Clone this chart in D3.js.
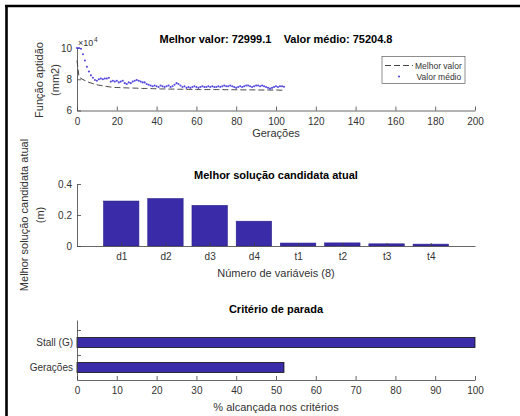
<!DOCTYPE html>
<html><head><meta charset="utf-8">
<script src="https://cdn.jsdelivr.net/npm/d3@7"></script>
<style>
body{margin:0;background:#fff}
svg{display:block;font-family:"Liberation Sans",Arial,Helvetica,sans-serif}
</style>
</head><body><svg id="c" width="520" height="416"></svg>
<script>
// ---- DATA (fitness values in units of 10^4 mm2) ----
const bestFitness = [9.2,8.15,8.05,7.98,7.92,7.86,7.80,7.76,7.72,7.68,
 7.65,7.62,7.60,7.58,7.56,7.54,7.52,7.50,7.49,7.48,
 7.47,7.47,7.46,7.46,7.45,7.45,7.44,7.44,7.44,7.43,
 7.43,7.42,7.42,7.41,7.41,7.41,7.40,7.40,7.40,7.39,
 7.39,7.39,7.38,7.38,7.38,7.38,7.37,7.37,7.37,7.37,
 7.36,7.36,7.36,7.36,7.36,7.35,7.35,7.35,7.35,7.35,
 7.35,7.34,7.34,7.34,7.34,7.34,7.34,7.34,7.34,7.34,
 7.34,7.34,7.34,7.34,7.33,7.33,7.33,7.33,7.33,7.33,
 7.33,7.33,7.33,7.32,7.32,7.32,7.32,7.32,7.32,7.32,
 7.32,7.32,7.31,7.31,7.31,7.31,7.31,7.31,7.31,7.31,
 7.31,7.31,7.30,7.30,7.30];
const meanFitness = [10.0,10.0,9.95,9.6,9.2,8.8,8.5,8.25,8.1,7.95,
 7.9,8.0,8.05,8.0,8.05,8.05,8.1,7.85,7.9,7.85,
 7.9,7.8,7.85,7.9,7.75,7.7,7.8,7.75,7.85,7.9,
 7.95,7.9,7.85,7.8,7.8,7.7,7.65,7.6,7.55,7.6,
 7.55,7.5,7.6,7.55,7.5,7.55,7.6,7.5,7.55,7.65,
 7.75,7.7,7.6,7.5,7.55,7.45,7.5,7.45,7.5,7.55,
 7.5,7.45,7.5,7.55,7.5,7.5,7.55,7.5,7.55,7.5,
 7.5,7.55,7.5,7.55,7.6,7.55,7.55,7.6,7.55,7.5,
 7.45,7.5,7.55,7.5,7.55,7.6,7.6,7.55,7.5,7.55,
 7.6,7.6,7.55,7.6,7.55,7.5,7.45,7.4,7.45,7.5,
 7.55,7.5,7.55,7.55,7.52];
const bestLabel = "Melhor valor: 72999.1";
const meanLabel = "Valor médio: 75204.8";
const genTicks = [0,20,40,60,80,100,120,140,160,180,200];
const fitnessTicks = [6,8,10];

const varNames = ["d1","d2","d3","d4","t1","t2","t3","t4"];
const varValues = [0.29,0.306,0.262,0.16,0.019,0.02,0.014,0.012];
const solTicks = [0,0.2,0.4];

const stopNames = ["Gerações","Stall (G)"];
const stopValues = [52,100];
const pctTicks = [0,10,20,30,40,50,60,70,80,90,100];

// ---- STYLE ----
const barFill = "#3a2ca8";
const axisCol = "#404040";
const textCol = "#333";
const svg = d3.select("#c");

function styleAxis(g){
  g.selectAll("path.domain").attr("stroke",axisCol).attr("stroke-width",0.8);
  g.selectAll(".tick line").attr("stroke",axisCol).attr("stroke-width",0.8);
  g.selectAll(".tick text").attr("fill",textCol).style("font-size","10px")
   .style("font-family",'"Liberation Sans",Arial,sans-serif');
}
function text(x,y,s,opt={}){
  const t = svg.append("text").attr("x",x).attr("y",y).text(s)
    .attr("fill",opt.fill||"#000").style("font-size",(opt.size||11)+"px")
    .attr("text-anchor",opt.anchor||"middle");
  if(opt.bold) t.style("font-weight","bold");
  if(opt.rot) t.attr("transform",`rotate(-90,${x},${y})`);
  if(opt.pre) t.attr("xml:space","preserve").style("white-space","pre");
  return t;
}

// frame
svg.append("line").attr("x1",5).attr("x2",520).attr("y1",6).attr("y2",6)
   .attr("stroke","#000").attr("stroke-width",2.6);
svg.append("line").attr("x1",6.5).attr("x2",6.5).attr("y1",5).attr("y2",416)
   .attr("stroke","#000").attr("stroke-width",2.6);

// ---- PLOT 1 ----
const X0 = 77, X1 = 475;
const x1 = d3.scaleLinear().domain([0,200]).range([X0,X1]);
const y1 = d3.scaleLinear().domain([6,10]).range([110.5,48]);

svg.append("g").attr("transform","translate(0,110.5)")
  .call(d3.axisBottom(x1).tickValues(genTicks).tickFormat(d3.format("d")).tickSizeInner(-4).tickSizeOuter(0).tickPadding(7))
  .call(styleAxis);
svg.append("g").attr("transform",`translate(${X0},0)`)
  .call(d3.axisLeft(y1).tickValues(fitnessTicks).tickFormat(d3.format("d")).tickSizeInner(-4).tickSizeOuter(0).tickPadding(5))
  .call(styleAxis);

const lineBest = d3.line().x((d,i)=>x1(i)).y(d=>y1(d));
svg.append("path").datum(bestFitness).attr("d",lineBest).attr("fill","none")
  .attr("stroke","#444").attr("stroke-width",1).attr("stroke-dasharray","6,3");
svg.append("g").selectAll("circle").data(meanFitness).join("circle")
  .attr("cx",(d,i)=>x1(i)).attr("cy",d=>y1(d)).attr("r",1.05).attr("fill","#5448e0");

// x10^4
text(78,46,"×10",{size:9,anchor:"start",fill:textCol});
text(94,41.5,"4",{size:6.5,anchor:"start",fill:textCol});

text(276,43,bestLabel+"    "+meanLabel,{bold:true,pre:true});
text(276,137,"Gerações",{fill:textCol});
text(43,80,"Função aptidão",{rot:true,fill:textCol});
text(59,80,"(mm2)",{rot:true,fill:textCol});

// legend
svg.append("rect").attr("x",382).attr("y",56.5).attr("width",83).attr("height",27)
  .attr("fill","#fff").attr("stroke","#444").attr("stroke-width",0.6);
svg.append("line").attr("x1",385).attr("x2",413).attr("y1",65.5).attr("y2",65.5)
  .attr("stroke","#444").attr("stroke-width",1).attr("stroke-dasharray","6,3");
svg.append("circle").attr("cx",399).attr("cy",76.5).attr("r",1.05).attr("fill","#5448e0");
text(415,68.5,"Melhor valor",{size:8.5,anchor:"start",fill:textCol});
text(416.5,79.5,"Valor médio",{size:8.5,anchor:"start",fill:textCol});

// ---- PLOT 2 ----
const x2 = d3.scaleLinear().domain([0,9]).range([X0,X1]);
const y2 = d3.scaleLinear().domain([0,0.4]).range([246,184]);
const bw = (x2(1)-x2(0))*0.8;
svg.append("g").selectAll("rect").data(varValues).join("rect")
  .attr("x",(d,i)=>x2(i+1)-bw/2).attr("width",bw)
  .attr("y",d=>y2(d)).attr("height",d=>y2(0)-y2(d))
  .attr("fill",barFill).attr("stroke","#2a1e88").attr("stroke-width",0.6);
svg.append("g").attr("transform","translate(0,246)")
  .call(d3.axisBottom(x2).tickValues(d3.range(1,varNames.length+1)).tickFormat((d)=>varNames[d-1])
    .tickSizeInner(-3).tickSizeOuter(0).tickPadding(7))
  .call(styleAxis);
svg.append("g").attr("transform",`translate(${X0},0)`)
  .call(d3.axisLeft(y2).tickValues(solTicks).tickFormat(d=>d===0?"0":d3.format(".1f")(d))
    .tickSizeInner(-4).tickSizeOuter(0).tickPadding(5))
  .call(styleAxis);
text(276,179,"Melhor solução candidata atual",{bold:true});
text(276,277,"Número de variáveis (8)",{fill:textCol});
text(28,215,"Melhor solução candidata atual",{rot:true,fill:textCol});
text(44,215,"(m)",{rot:true,fill:textCol});

// ---- PLOT 3 ----
const x3 = d3.scaleLinear().domain([0,100]).range([X0,X1]);
const y3 = d3.scaleLinear().domain([0.5,2.9]).range([380,320]);
const bh = y3(0.5)-y3(0.9);
svg.append("g").selectAll("rect").data(stopValues).join("rect")
  .attr("x",x3(0)).attr("width",d=>x3(d)-x3(0))
  .attr("y",(d,i)=>y3(i+1)-bh/2).attr("height",bh)
  .attr("fill",barFill).attr("stroke","#111").attr("stroke-width",0.8);
svg.append("g").attr("transform","translate(0,380)")
  .call(d3.axisBottom(x3).tickValues(pctTicks).tickFormat(d3.format("d")).tickSizeInner(-4).tickSizeOuter(0).tickPadding(7))
  .call(styleAxis);
svg.append("g").attr("transform",`translate(${X0},0)`)
  .call(d3.axisLeft(y3).tickValues([1.5,2.5]).tickFormat("").tickSizeInner(-4).tickSizeOuter(0))
  .call(styleAxis);
svg.append("g").selectAll("text").data(stopNames).join("text")
  .attr("x",X0-4).attr("y",(d,i)=>y3(i+1)).attr("dy","0.35em").attr("text-anchor","end")
  .attr("fill",textCol).style("font-size","10px").text(d=>d);
text(276,313,"Critério de parada",{bold:true});
text(276,411,"% alcançada nos critérios",{fill:textCol});
</script></body></html>
